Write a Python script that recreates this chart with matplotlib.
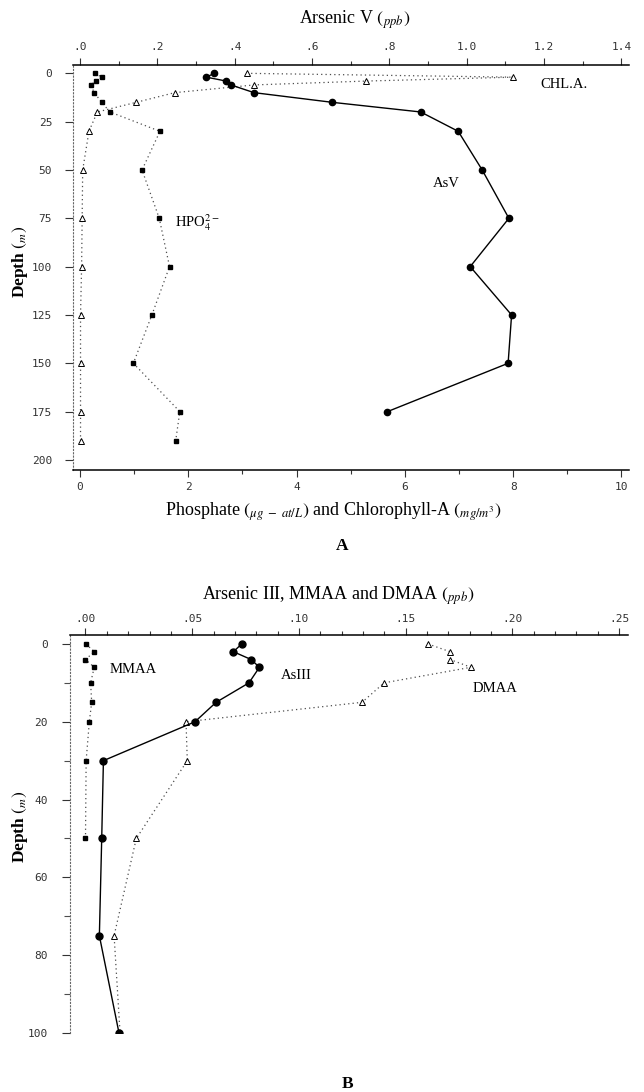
import numpy as np
import matplotlib
matplotlib.use('Agg')
import matplotlib.pyplot as plt
from matplotlib.ticker import MultipleLocator

plt.rcParams['font.family'] = ['Liberation Serif', 'DejaVu Serif']
plt.rcParams['mathtext.fontset'] = 'stix'

# Panel A: perfil hasta 190 m
depth_a = [0, 2, 4, 6, 10, 15, 20, 30, 50, 75, 100, 125, 150, 175, 190]
asv = [0.347, 0.327, 0.378, 0.390, 0.450, 0.652, 0.881, 0.978, 1.040,
       1.109, 1.009, 1.116, 1.107, 0.795]          # ppb, sin dato a 190 m
phosphate = [0.277, 0.400, 0.295, 0.198, 0.264, 0.400, 0.554, 1.477, 1.146,
             1.464, 1.654, 1.328, 0.986, 1.844, 1.768]
chla = [3.08, 8.00, 5.29, 3.22, 1.75, 1.04, 0.32, 0.166, 0.05, 0.04, 0.03,
        0.01, 0.01, 0.01, 0.01]

# Panel B: perfil hasta 100 m
depth_b = [0, 2, 4, 6, 10, 15, 20, 30, 50, 75, 100]
as3 = [0.0732, 0.0693, 0.0776, 0.0815, 0.0766, 0.0612, 0.0513, 0.0084,
       0.0076, 0.0065, 0.0157]
mmaa = [0.0002, 0.0041, 0.0, 0.0041, 0.0024, 0.0029, 0.0018, 0.0003, 0.0]
dmaa = [0.1605, 0.1708, 0.1708, 0.1806, 0.1399, 0.1296, 0.0471, 0.0477,
        0.0238, 0.0134, 0.0162]

# Ticks
a_top_ticks = [0.0, 0.2, 0.4, 0.6, 0.8, 1.0, 1.2, 1.4]
a_top_labels = ['.0', '.2', '.4', '.6', '.8', '1.0', '1.2', '1.4']
a_bot_ticks = [0, 2, 4, 6, 8, 10]
a_bot_labels = ['0', '2', '4', '6', '8', '10']
a_depth_ticks = [0, 25, 50, 75, 100, 125, 150, 175, 200]
b_top_ticks = [0.0, 0.05, 0.10, 0.15, 0.20, 0.25]
b_top_labels = ['.00', '.05', '.10', '.15', '.20', '.25']
b_depth_ticks = [0, 20, 40, 60, 80, 100]

W, H = 644, 1092
fig = plt.figure(figsize=(W / 100, H / 100), dpi=100)


def px_axes(l, t, r, b):
    return fig.add_axes([l / W, 1 - b / H, (r - l) / W, (b - t) / H])


dot = (0, (1, 2.5))
tick_kw = dict(labelfontfamily='DejaVu Sans Mono', labelsize=8,
               labelcolor='0.2', color='0.2', width=0.8)

# ---------------- Panel A ----------------
axA = px_axes(73, 65, 629, 470)
axA.set_xlim(-0.129, 10.14)
axA.set_ylim(205.2, -4.3)

axA.plot(phosphate, depth_a, color='0.3', ls=dot, lw=0.9,
         marker='s', ms=3, mfc='k', mec='k')
axA.plot(chla, depth_a, color='0.3', ls=dot, lw=0.9,
         marker='^', ms=4, mfc='white', mec='k', mew=0.7)

axA2 = axA.twiny()
axA2.set_xlim(-0.129 * 0.14, 10.14 * 0.14)
axA2.plot(asv, depth_a[:len(asv)], color='k', lw=1,
          marker='o', ms=4.5)

for s in ['top', 'right']:
    axA.spines[s].set_visible(False)
for s in ['left', 'right', 'bottom']:
    axA2.spines[s].set_visible(False)
axA.spines['left'].set_linestyle((0, (1, 2)))
axA.spines['left'].set_color('0.4')
axA.spines['left'].set_linewidth(0.8)
axA.spines['bottom'].set_linewidth(1.1)
axA2.spines['top'].set_linewidth(1.1)

axA.set_xticks(a_bot_ticks)
axA.set_xticklabels(a_bot_labels)
axA.xaxis.set_minor_locator(MultipleLocator(1))
axA.set_yticks(a_depth_ticks)
axA.set_yticklabels([str(d) for d in a_depth_ticks])
axA.tick_params(axis='x', which='major', length=5, pad=4, **tick_kw)
axA.tick_params(axis='x', which='minor', length=3, color='0.2', width=0.8)
axA.tick_params(axis='y', which='major', length=6, pad=9, **tick_kw)

axA2.set_xticks(a_top_ticks)
axA2.set_xticklabels(a_top_labels)
axA2.xaxis.set_minor_locator(MultipleLocator(0.1))
axA2.tick_params(axis='x', which='major', length=5, pad=4, **tick_kw)
axA2.tick_params(axis='x', which='minor', length=3, color='0.2', width=0.8)

axA.text(8.94, 6, 'CHL.A.', fontsize=10.5, ha='center', va='center')
axA.text(6.76, 57, 'AsV', fontsize=10.5, ha='center', va='center')
axA.text(2.16, 77, r'HPO$_4^{2-}$', fontsize=10.5, ha='center', va='center')

fig.text(355 / W, 1 - 20 / H, r'Arsenic V $(_{ppb})$', fontsize=13,
         ha='center', va='center')
fig.text(333 / W, 1 - 512 / H,
         r'Phosphate $(_{\mu g\ -\ at/L})$ and Chlorophyll-A $(_{mg/m^3})$',
         fontsize=13, ha='center', va='center')
fig.text(20 / W, 1 - 262 / H, r'Depth $(_{m})$', fontsize=12.5,
         fontweight='bold', rotation=90, ha='center', va='center')
fig.text(342 / W, 1 - 546 / H, 'A', fontsize=12.5, fontweight='bold',
         ha='center', va='center')

# ---------------- Panel B ----------------
axB = px_axes(70, 635, 628, 1033)
axB.set_xlim(-0.00726, 0.2542)
axB.set_ylim(100, -2.3)

axB.plot(mmaa, depth_b[:len(mmaa)], color='0.3', ls=dot, lw=0.9,
         marker='s', ms=3, mfc='k', mec='k')
axB.plot(dmaa, depth_b, color='0.3', ls=dot, lw=0.9,
         marker='^', ms=4, mfc='white', mec='k', mew=0.7)
axB.plot(as3, depth_b, color='k', lw=1, marker='o', ms=5)

for s in ['bottom', 'right']:
    axB.spines[s].set_visible(False)
axB.spines['left'].set_linestyle((0, (1, 2)))
axB.spines['left'].set_color('0.4')
axB.spines['left'].set_linewidth(0.8)
axB.spines['top'].set_linewidth(1.1)

axB.xaxis.tick_top()
axB.set_xticks(b_top_ticks)
axB.set_xticklabels(b_top_labels)
axB.xaxis.set_minor_locator(MultipleLocator(0.01))
axB.set_yticks(b_depth_ticks)
axB.set_yticklabels([str(d) for d in b_depth_ticks])
axB.yaxis.set_minor_locator(MultipleLocator(10))
axB.tick_params(axis='x', which='major', length=5, pad=3, **tick_kw)
axB.tick_params(axis='x', which='minor', length=3, color='0.2', width=0.8)
axB.tick_params(axis='y', which='major', length=6, pad=10, **tick_kw)
axB.tick_params(axis='y', which='minor', length=4, color='0.3', width=0.8)

axB.text(0.0223, 6.5, 'MMAA', fontsize=10.5, ha='center', va='center')
axB.text(0.099, 8, 'AsIII', fontsize=10.5, ha='center', va='center')
axB.text(0.192, 11.4, 'DMAA', fontsize=10.5, ha='center', va='center')

fig.text(338 / W, 1 - 596 / H, r'Arsenic III, MMAA and DMAA $(_{ppb})$',
         fontsize=13, ha='center', va='center')
fig.text(20 / W, 1 - 827 / H, r'Depth $(_{m})$', fontsize=12.5,
         fontweight='bold', rotation=90, ha='center', va='center')
fig.text(348 / W, 1 - 1084 / H, 'B', fontsize=12.5, fontweight='bold',
         ha='center', va='center')

fig.savefig('out.png', dpi=100)
